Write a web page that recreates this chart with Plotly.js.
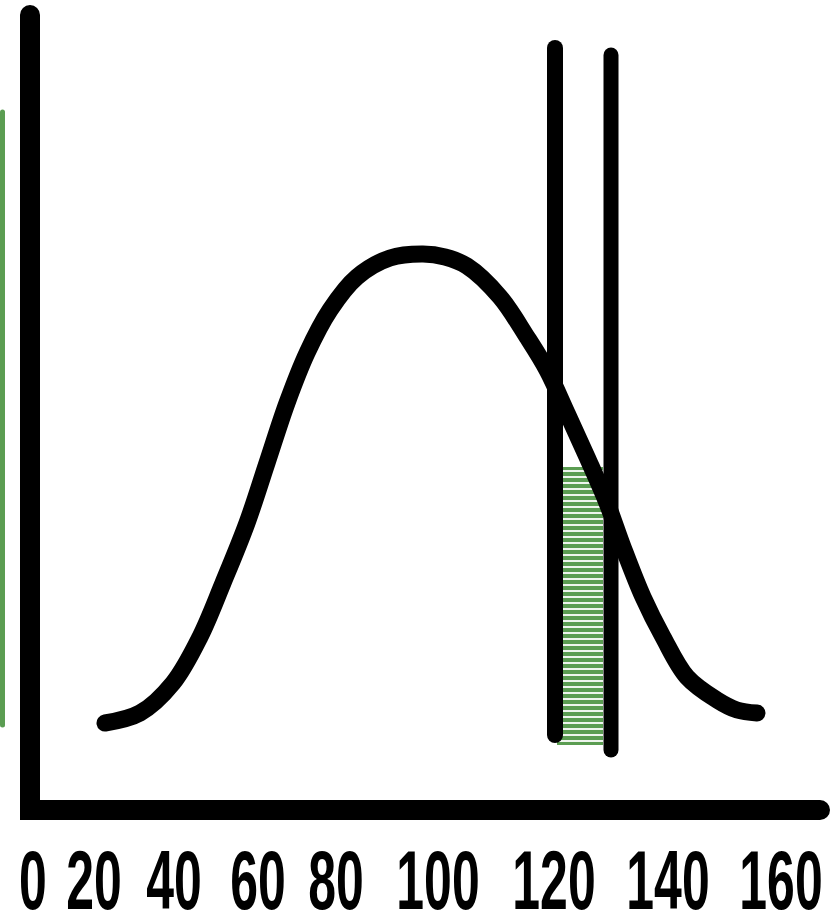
<!DOCTYPE html>
<html>
<head>
<meta charset="utf-8">
<script src="https://cdn.plot.ly/plotly-3.0.1.min.js"></script>
<style>html,body{margin:0;padding:0;background:#fff;}#chart{width:835px;height:915px;}</style>
</head>
<body>
<div id="chart"></div>
<script>
// Sketch units: x = horizontal position, y = height above the baseline
const curveX = [105,140,173,200,223,247,267,287,307,330,357,390,423,445,467,500,527,547,567,587,607,623,643,663,687,717,737,757];
const curveY = [107,117,147,193,247,307,367,427,477,520,553,572,576,573,564,533,493,460,417,373,327,283,233,193,153,130,120,117];
const thresholdX = [555, 611];
const thresholdTop = [782, 775];
const thresholdBottom = [95, 80];
const shadeCenter = [580];
const shadeWidth = [46];
const shadeBase = [85];
const shadeHeight = [278];
const tickPos = [33, 94, 174, 258, 336, 438, 554, 668, 781];
const tickLabels = ['0','20','40','60','80','100','120','140','160'];
const sideBarY = [105, 718];

const green = '#5b9d52';
const traces = [
  {type:'scatter', mode:'lines', x:curveX, y:curveY, line:{color:'#000', width:17, shape:'spline', smoothing:1}, cliponaxis:false, hoverinfo:'skip'},
  {type:'bar', x:shadeCenter, y:shadeHeight, base:shadeBase, width:shadeWidth,
   marker:{color:green, line:{width:0}, pattern:{shape:'-', fgcolor:'#ffffff', bgcolor:green, size:6, solidity:0.3, fillmode:'replace'}}, hoverinfo:'skip'},
  {type:'scatter', mode:'lines', x:[thresholdX[0],thresholdX[0]], y:[thresholdTop[0],thresholdBottom[0]], line:{color:'#000', width:16}, cliponaxis:false, hoverinfo:'skip'},
  {type:'scatter', mode:'lines', x:[thresholdX[1],thresholdX[1]], y:[thresholdTop[1],thresholdBottom[1]], line:{color:'#000', width:15}, cliponaxis:false, hoverinfo:'skip'},
  {type:'scatter', mode:'lines', x:[2.5,2.5], y:sideBarY, line:{color:green, width:5}, cliponaxis:false, hoverinfo:'skip'}
];

const layout = {
  width:835, height:915,
  margin:{l:0, r:0, t:0, b:85},
  paper_bgcolor:'#fff', plot_bgcolor:'#fff',
  showlegend:false,
  bargap:0,
  xaxis:{range:[0,835], fixedrange:true, showgrid:false, zeroline:false, showline:false,
         tickmode:'array', tickvals:tickPos, ticktext:tickLabels, ticks:'', tickangle:0,
         tickfont:{family:'"Liberation Sans", Arial, sans-serif', size:64, color:'#000', weight:'bold'}},
  yaxis:{range:[0,830], fixedrange:true, showgrid:false, zeroline:false, showline:false, showticklabels:false, ticks:''},
  shapes:[
    {type:'path', xref:'x', yref:'y', path:'M 30,815 L 30,20 L 820,20', line:{color:'#000', width:20}, layer:'below'}
  ]
};

Plotly.newPlot('chart', traces, layout, {staticPlot:true, displayModeBar:false}).then(function(gd){
  gd.querySelectorAll('.shapelayer path, .scatterlayer path.js-line').forEach(function(p){
    p.style.strokeLinecap = 'round';
  });
  const root = gd.getBoundingClientRect();
  const sx = 0.78, sy = 1.31, targetCy = 880;
  gd.querySelectorAll('g.xtick').forEach(function(g){
    const bb = g.getBBox();
    const r = g.getBoundingClientRect();
    const absCy = r.top + r.height/2 - root.top;
    const cx = bb.x + bb.width/2;
    const cy = bb.y + bb.height/2;
    g.setAttribute('transform',
      'translate(0,' + (targetCy - absCy) + ') ' +
      'translate(' + cx + ',' + cy + ') scale(' + sx + ',' + sy + ') translate(' + (-cx) + ',' + (-cy) + ')');
  });
});
</script>
</body>
</html>
